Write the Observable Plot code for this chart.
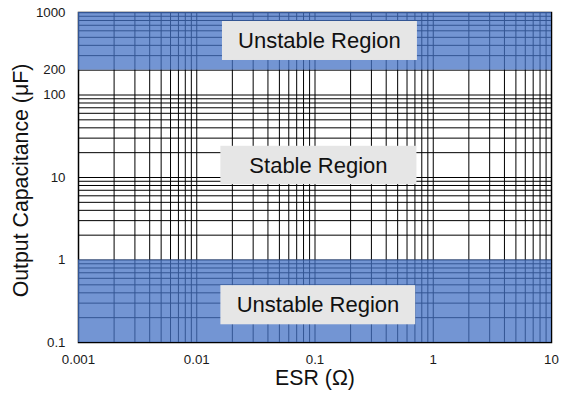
<!DOCTYPE html>
<html>
<head>
<meta charset="utf-8">
<script src="https://cdn.jsdelivr.net/npm/d3@7"></script>
<script src="https://cdn.jsdelivr.net/npm/@observablehq/plot@0.6"></script>
<style>
  html, body { margin: 0; padding: 0; background: #fff; }
</style>
</head>
<body>
<div id="chart"></div>
<script>
// Axis ticks and labels
const xTicks = [0.001, 0.01, 0.1, 1, 10];
const xTickLabels = ["0.001", "0.01", "0.1", "1", "10"];
const yTicks = [0.1, 1, 10, 100, 200, 1000];
const yTickLabels = ["0.1", "1", "10", "100", "200", "1000"];
const xDecades = [0.001, 0.01, 0.1, 1];
const yDecades = [0.1, 1, 10, 100];
const gridMultipliers = [1, 2, 3, 4, 5, 6, 7, 8, 9];

// Shaded unstable bands (capacitance ranges)
const bandLow = [200, 0.1];
const bandHigh = [1000, 1];

// Region annotations (centre and box extent in data units)
const regionNames = ["Unstable Region", "Stable Region", "Unstable Region"];
const regionX = [0.109, 0.107, 0.106];
const regionY = [451, 13.9, 0.283];
const regionBoxX1 = [0.0165, 0.0160, 0.0160];
const regionBoxX2 = [0.735, 0.728, 0.71];
const regionBoxY1 = [262, 8.2, 0.164];
const regionBoxY2 = [778, 23.9, 0.489];

const gridX = xDecades.flatMap(d => gridMultipliers.map(m => d * m)).concat([10]);
const gridY = yDecades.flatMap(d => gridMultipliers.map(m => d * m)).concat([1000]);

const bands = bandLow.map((lo, i) => ({y1: lo, y2: bandHigh[i]}));
const regions = regionNames.map((t, i) => ({
  text: t, x: regionX[i], y: regionY[i],
  x1: regionBoxX1[i], x2: regionBoxX2[i], y1: regionBoxY1[i], y2: regionBoxY2[i]
}));

const chart = Plot.plot({
  width: 566,
  height: 403,
  marginLeft: 78,
  marginRight: 15,
  marginTop: 12,
  marginBottom: 61,
  x: {type: "log", domain: [0.001, 10]},
  y: {type: "log", domain: [0.1, 1000]},
  style: {fontFamily: "'Liberation Sans', Arial, sans-serif", fontSize: "13.3px", color: "#1a1a1a", background: "#fff"},
  marks: [
    Plot.ruleX(gridX, {stroke: "#000", strokeWidth: 1}),
    Plot.ruleY(gridY, {stroke: "#000", strokeWidth: 1}),
    Plot.frame({stroke: "#000", strokeWidth: 1.5}),
    Plot.rect(bands, {x1: () => 0.001, x2: () => 10, y1: "y1", y2: "y2", fill: "#4472c4", fillOpacity: 0.75}),
    Plot.rect(regions, {x1: "x1", x2: "x2", y1: "y1", y2: "y2", fill: "#e6e6e6"}),
    Plot.text(regions, {x: "x", y: "y", text: "text", fontSize: 22, fill: "#111"}),
    Plot.axisX({ticks: xTicks, tickFormat: d => xTickLabels[xTicks.indexOf(d)], tickSize: 0, tickPadding: 12, label: null}),
    Plot.axisY({ticks: yTicks, tickFormat: d => yTickLabels[yTicks.indexOf(d)], tickSize: 0, tickPadding: 13, label: null}),
    Plot.text(["ESR (Ω)"], {frameAnchor: "bottom", dy: 36, textAnchor: "middle", lineAnchor: "middle", text: d => d, fontSize: 21.3, fill: "#111"}),
    Plot.text(["Output Capacitance (μF)"], {frameAnchor: "left", dx: -57, dy: 3, rotate: -90, textAnchor: "middle", lineAnchor: "middle", text: d => d, fontSize: 21.3, fill: "#111"})
  ]
});
document.getElementById("chart").appendChild(chart);
</script>
</body>
</html>
